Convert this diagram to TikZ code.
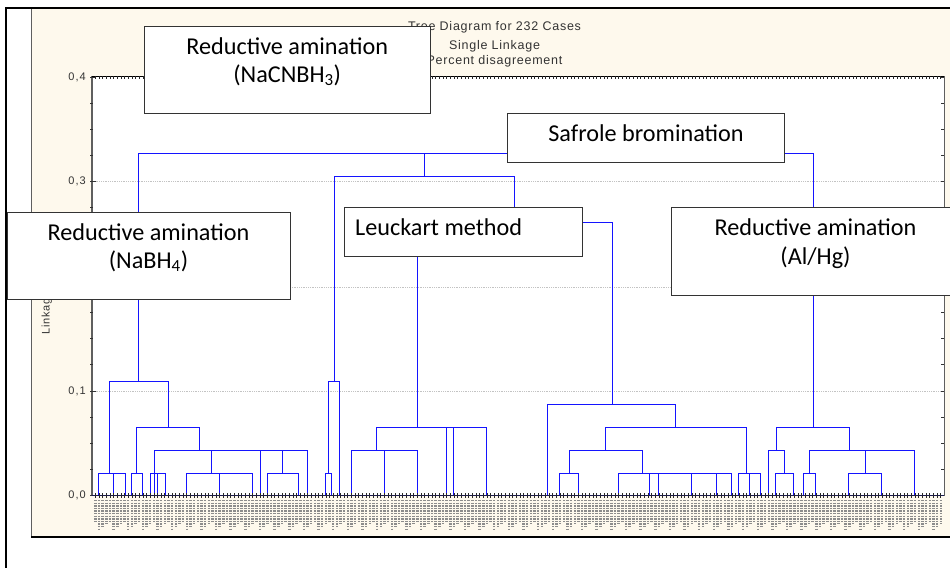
\documentclass[tikz,border=0pt]{standalone}
\usepackage{fontspec}
\setmainfont{Carlito}
\newfontfamily\chartfont[LetterSpace=6]{Liberation Sans}
\newfontfamily\tickfont[LetterSpace=10]{Liberation Sans}
\definecolor{cream}{RGB}{254,249,237}
\definecolor{dendro}{RGB}{20,20,255}
\definecolor{boxedge}{RGB}{51,51,51}
\definecolor{gridgray}{RGB}{195,195,195}
\definecolor{labelgray}{RGB}{140,140,140}
\definecolor{axisgray}{RGB}{95,95,95}
\definecolor{basenavy}{RGB}{25,25,80}
\newcommand\mrg[5]{\draw[dendroline] (#1,#2) |- (#3,#5) -- (#3,#4);}
\begin{document}
\begin{tikzpicture}[x=1pt,y=-1pt,
  dendroline/.style={draw=dendro, line width=1pt},
  labelbox/.style={draw=boxedge, fill=white, line width=0.9pt, rectangle, inner sep=0pt},
  boxtext/.style={font=\fontsize{24.2}{28}\selectfont, anchor=base, inner sep=0pt},
  titletext/.style={font=\chartfont\fontsize{12.5}{15}\selectfont, anchor=base, inner sep=0pt, text=black!80},
  ticklabel/.style={font=\tickfont\fontsize{11}{12}\selectfont, anchor=east, inner sep=0pt, text=black!80}]
\useasboundingbox (0,0) rectangle (950,568);
\clip (0,0) rectangle (950,568);
\def\Yz{495.7}
% outer frame
\fill[white] (0,0) rectangle (950,568);
\fill[cream] (31,8) rectangle (950,537);
\draw[axisgray, line width=1pt] (31,8.5) -- (31,537);
\draw[black, line width=1.2pt] (31,537) -- (950,537);
\draw[black, line width=2pt] (6,8) -- (6,568);
\draw[black, line width=1.2pt] (5,8) -- (950,8);
% plot area
\fill[white] (92,76) rectangle (944,\Yz);
\foreach \gy in {181.7,287,391.7}
  \draw[gridgray, line width=0.9pt, dash pattern=on 1pt off 0.8pt] (92,\gy) -- (944,\gy);
% left and right axes
\draw[axisgray, line width=1.3pt] (92,76) -- (92,\Yz);
\draw[axisgray, line width=1pt] (944,76) -- (944,\Yz);
\foreach \k in {0,...,16}{
  \pgfmathsetmacro\ty{\Yz-\k*26.175}
  \draw[black!80, line width=0.7pt] (90,\ty) -- (93,\ty);
  \draw[black!80, line width=0.7pt] (941,\ty) -- (944,\ty);
}
\foreach \k/\lab in {0/{0,0},1/{0,1},2/{0,2},3/{0,3},4/{0,4}}{
  \pgfmathsetmacro\ty{\Yz-\k*104.7}
  \draw[black!80, line width=0.8pt] (92,\ty) -- (96,\ty);
  \node[ticklabel] (tl\k) at (86,\ty) {\lab};
}
% top axis with case ticks
\draw[black, line width=0.6pt] (92,76) -- (944,76);
\foreach \i in {0,...,231}{
  \pgfmathsetmacro\cx{95.3+\i*3.66}
  \draw[black!85, line width=0.6pt] (\cx,76) -- (\cx,79);
}
% title
\node[titletext] (title1) at (494.5,30.7) {Tree Diagram for 232 Cases};
\node[titletext] (title2) at (494.5,49) {Single Linkage};
\node[titletext] (title3) at (494.5,64.3) {Percent disagreement};
% y label
\node[font=\chartfont\fontsize{11}{13}\selectfont, rotate=90, anchor=base west, inner sep=0pt, text=black!80] (ylab) at (49.5,334.3) {Linkage};
% dendrogram: left group
\draw[dendroline] (138.3,381.7) |- (813,153.7) -- (813,427.3);
\mrg{109}{473.3}{168.3}{427.3}{381.7}
\mrg{98.3}{\Yz}{125}{\Yz}{473.3}
\draw[dendroline] (113.3,473.3) -- (113.3,\Yz);
\mrg{136.7}{473.3}{199.3}{450.3}{427.3}
\mrg{131}{\Yz}{142.7}{\Yz}{473.3}
\mrg{154}{\Yz}{307.3}{\Yz}{450.3}
\draw[dendroline] (211.3,450.3) -- (211.3,473.3);
\draw[dendroline] (260,450.3) -- (260,\Yz);
\draw[dendroline] (282.7,450.3) -- (282.7,473.3);
\mrg{150}{\Yz}{165}{\Yz}{473.3}
\draw[dendroline] (157.7,473.3) -- (157.7,\Yz);
\mrg{186.7}{\Yz}{252.3}{\Yz}{473.3}
\draw[dendroline] (219.7,473.3) -- (219.7,\Yz);
\mrg{267.3}{\Yz}{298.3}{\Yz}{473.3}
% middle group
\draw[dendroline] (424.3,153.7) -- (424.3,176.3);
\mrg{334.3}{381.7}{514.3}{222.3}{176.3}
\mrg{328.3}{473.3}{339.3}{\Yz}{381.7}
\mrg{325.7}{\Yz}{331.7}{\Yz}{473.3}
\mrg{417.3}{427.3}{612}{404.7}{222.3}
\mrg{376}{450.3}{486.7}{\Yz}{427.3}
\draw[dendroline] (446.7,427.3) -- (446.7,\Yz);
\draw[dendroline] (453.7,427.3) -- (453.7,\Yz);
\mrg{351.3}{\Yz}{417.3}{\Yz}{450.3}
\draw[dendroline] (384.3,450.3) -- (384.3,\Yz);
\mrg{547.7}{\Yz}{675.7}{427.7}{404.7}
\mrg{605.7}{450.3}{746.3}{473.3}{427.7}
\mrg{569}{473.3}{642.3}{473.3}{450.3}
\mrg{559.3}{\Yz}{578.3}{\Yz}{473.3}
\mrg{618.3}{\Yz}{731.7}{\Yz}{473.3}
\foreach \vx in {649.3,658.3,691.7,716.7}
  \draw[dendroline] (\vx,473.3) -- (\vx,\Yz);
\mrg{738}{\Yz}{760}{\Yz}{473.3}
\draw[dendroline] (749,473.3) -- (749,\Yz);
% right group
\mrg{776}{450.3}{849.7}{450.3}{427.3}
\mrg{768}{\Yz}{784}{473.3}{450.3}
\mrg{775}{\Yz}{793}{\Yz}{473.3}
\mrg{809.7}{473.3}{914.3}{\Yz}{450.3}
\draw[dendroline] (865.3,450.3) -- (865.3,473.3);
\mrg{803.7}{\Yz}{815.7}{\Yz}{473.3}
\mrg{848.3}{\Yz}{881.3}{\Yz}{473.3}
% bottom axis and case labels
\draw[basenavy, line width=1.3pt] (92,\Yz) -- (944,\Yz);
\foreach \i in {0,...,231}{
  \pgfmathsetmacro\cx{95.3+\i*3.66}
  \pgfmathsetmacro\cl{21+3*mod(\i*7,4)}
  \draw[black!85, line width=0.7pt] (\cx,493) -- (\cx,498.3);
  \draw[labelgray, line width=2.5pt, dash pattern=on 1.4pt off 1.2pt] (\cx,500) -- (\cx,500+\cl);
}
% label boxes
\node[labelbox, minimum width=285.7pt, minimum height=86.6pt] (boxA) at (287.2,70) {};
\node[labelbox, minimum width=276.6pt, minimum height=49.4pt] (boxB) at (646,138) {};
\node[labelbox, minimum width=283pt, minimum height=86.6pt] (boxC) at (148.8,256) {};
\node[labelbox, minimum width=238.4pt, minimum height=49pt] (boxD) at (463.5,232.2) {};
\node[labelbox, minimum width=288.7pt, minimum height=87.3pt] (boxE) at (815.6,251.3) {};
\node[boxtext] (tA1) at (287.2,54) {Reductive amination};
\node[boxtext] (tA2) at (287.2,82) {(NaCNBH\textsubscript{3})};
\node[boxtext] (tB) at (646,141) {Safrole bromination};
\node[boxtext] (tC1) at (148.5,240) {Reductive amination};
\node[boxtext] (tC2) at (148.5,268) {(NaBH\textsubscript{4})};
\node[boxtext, anchor=base west] (tD) at (355,235) {Leuckart method};
\node[boxtext] (tE1) at (815.5,235) {Reductive amination};
\node[boxtext] (tE2) at (815.5,264) {(Al/Hg)};
\end{tikzpicture}
\end{document}
